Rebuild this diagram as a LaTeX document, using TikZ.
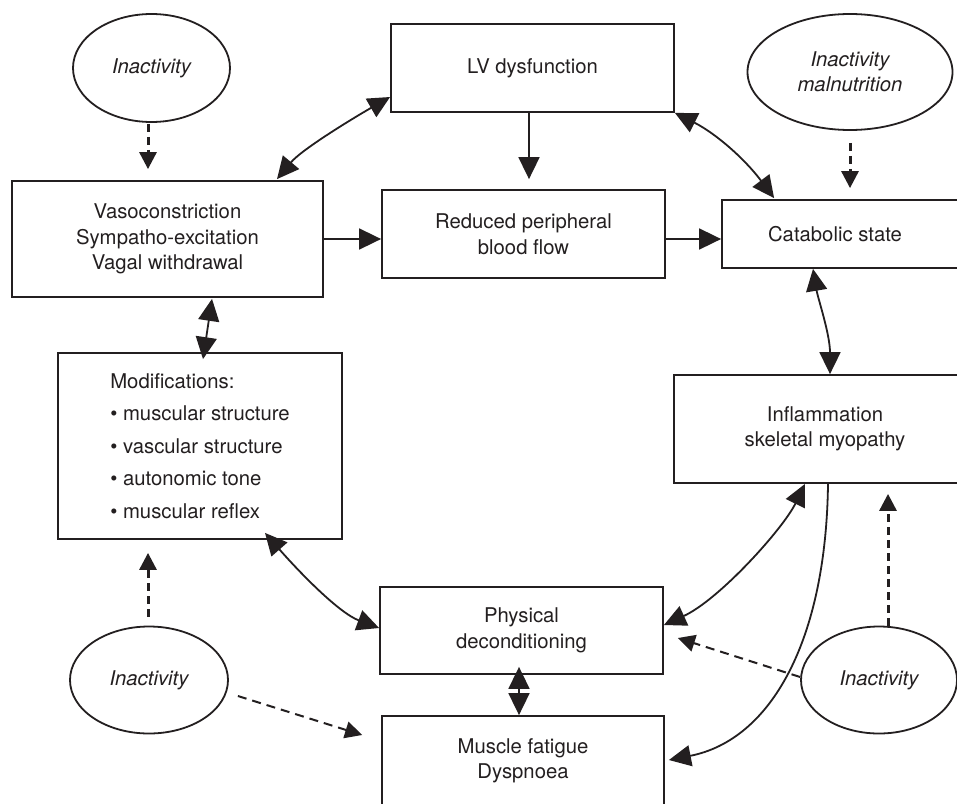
\documentclass[tikz,border=0pt]{standalone}
\usepackage{fontspec}
\setmainfont{TeX Gyre Heros}
\usetikzlibrary{arrows.meta,shapes.geometric}
\definecolor{ink}{HTML}{231F20}
\tikzset{
  BigTri/.tip={Triangle[length=22pt,width=21pt]},
  SmallTri/.tip={Triangle[length=17pt,width=17pt]},
}
\begin{document}
\begin{tikzpicture}[x=1pt,y=-1pt,
  box/.style={draw=ink, line width=1.8pt, rectangle, inner sep=0pt, align=center, text=ink,
    font=\fontsize{20.3}{25.5}\selectfont},
  oval/.style={draw=ink, line width=1.8pt, ellipse, inner sep=0pt, align=center, text=ink,
    font=\fontsize{20.3}{25.5}\selectfont\itshape},
  one/.style={draw=ink, line width=1.8pt, -BigTri},
  dbl/.style={draw=ink, line width=1.8pt, BigTri-BigTri},
  dshA/.style={draw=ink, line width=3pt, dash pattern=on 8pt off 5pt, -SmallTri},
  dshB/.style={draw=ink, line width=2pt, dash pattern=on 9pt off 6pt, -SmallTri},
]
\clip (0,0) rectangle (957,803);
\fill[white] (0,0) rectangle (957,803);

% boxes
\node[box, minimum width=311pt, minimum height=116pt] (vaso) at (167.5,239)
  {Vasoconstriction\\Sympatho-excitation\\Vagal withdrawal};
\node[box, minimum width=283pt, minimum height=88pt] (lv) at (532.5,68) {LV dysfunction};
\node[box, minimum width=283pt, minimum height=88pt] (red) at (523.5,234)
  {Reduced peripheral\\blood flow};
\node[box, minimum width=240pt, minimum height=68pt] (cat) at (842,234)
  {Catabolic state\hspace*{14pt}};
\node[box, minimum width=302pt, minimum height=108pt] (infl) at (825,429)
  {Inflammation\\skeletal myopathy};
\node[box, minimum width=284pt, minimum height=186pt, align=left,
  font=\fontsize{20.3}{32.5}\selectfont] (mods) at (200,446)
  {Modifications:\\\textbullet\ muscular structure\\\textbullet\ vascular structure\\\textbullet\ autonomic tone\\\textbullet\ muscular reflex};
\node[box, minimum width=283pt, minimum height=87pt] (phys) at (521.5,630.5)
  {Physical\\deconditioning};
\node[box, minimum width=282pt, minimum height=90pt] (musc) at (523,761)
  {Muscle fatigue\\Dyspnoea};

% ellipses
\node[oval, minimum width=157pt, minimum height=108pt] (e1) at (151.5,68) {Inactivity};
\node[oval, minimum width=205pt, minimum height=116pt] (e2) at (850,72) {Inactivity\\malnutrition};
\node[oval, minimum width=158pt, minimum height=107pt] (e3) at (149,680) {Inactivity};
\node[oval, minimum width=156pt, minimum height=107pt] (e4) at (879,680) {Inactivity};

% connectors
\draw[dshA] ([shift={(-3.5,1)}]e1.south) -- ([shift={(-19.5,-11)}]vaso.north);
\draw[dbl] ([shift={(109.5,-1)}]vaso.north) .. controls +(25,-30) and +(-35,20) .. ([shift={(0,29)}]lv.west);
\draw[one] ([shift={(-3.5,0)}]lv.south) -- ([shift={(5.5,-10)}]red.north);
\draw[one] (vaso.east) -- ([shift={(0,5)}]red.west);
\draw[one] ([shift={(0,5)}]red.east) -- ([shift={(0,5)}]cat.west);
\draw[dbl] (lv.south east) .. controls +(40,20) and +(-30,-40) .. ([shift={(53,-1)}]cat.north west);
\draw[dshA] ([shift={(0,12)}]e2.south) -- ([shift={(8,-11)}]cat.north);
\draw[dbl] ([shift={(-29,0)}]cat.south) .. controls +(5,30) and +(0,-40) .. ([shift={(5,0)}]infl.north);
\draw[dbl] ([shift={(44.5,1)}]vaso.south) -- ([shift={(3,7)}]mods.north);
\draw[dbl] ([shift={(65,-7)}]mods.south) .. controls +(35,40) and +(-40,-15) .. ([shift={(0,-2.5)}]phys.west);
\draw[dshA] ([shift={(-1,-9)}]e3.north) -- ([shift={(-52,13)}]mods.south);
\draw[dshB] ([shift={(9,16)}]e3.east) -- ([shift={(-19,-26)}]musc.west);
\draw[dshA] ([shift={(9,0)}]e4.north) -- ([shift={(63,10)}]infl.south);
\draw[dshB] ([shift={(0,-3)}]e4.west) -- ([shift={(14,7.5)}]phys.east);
\draw[dbl] ([shift={(-20,0)}]infl.south) .. controls +(-22,45) and +(55,-25) .. ([shift={(0,-5.5)}]phys.east);
\draw[one] ([shift={(3,0)}]infl.south) .. controls +(-2,157) and +(102,-20) .. ([shift={(4,-1)}]musc.east);
\draw[dbl] ([shift={(-2.5,-8)}]phys.south) -- ([shift={(-4,0)}]musc.north);
\end{tikzpicture}
\end{document}
